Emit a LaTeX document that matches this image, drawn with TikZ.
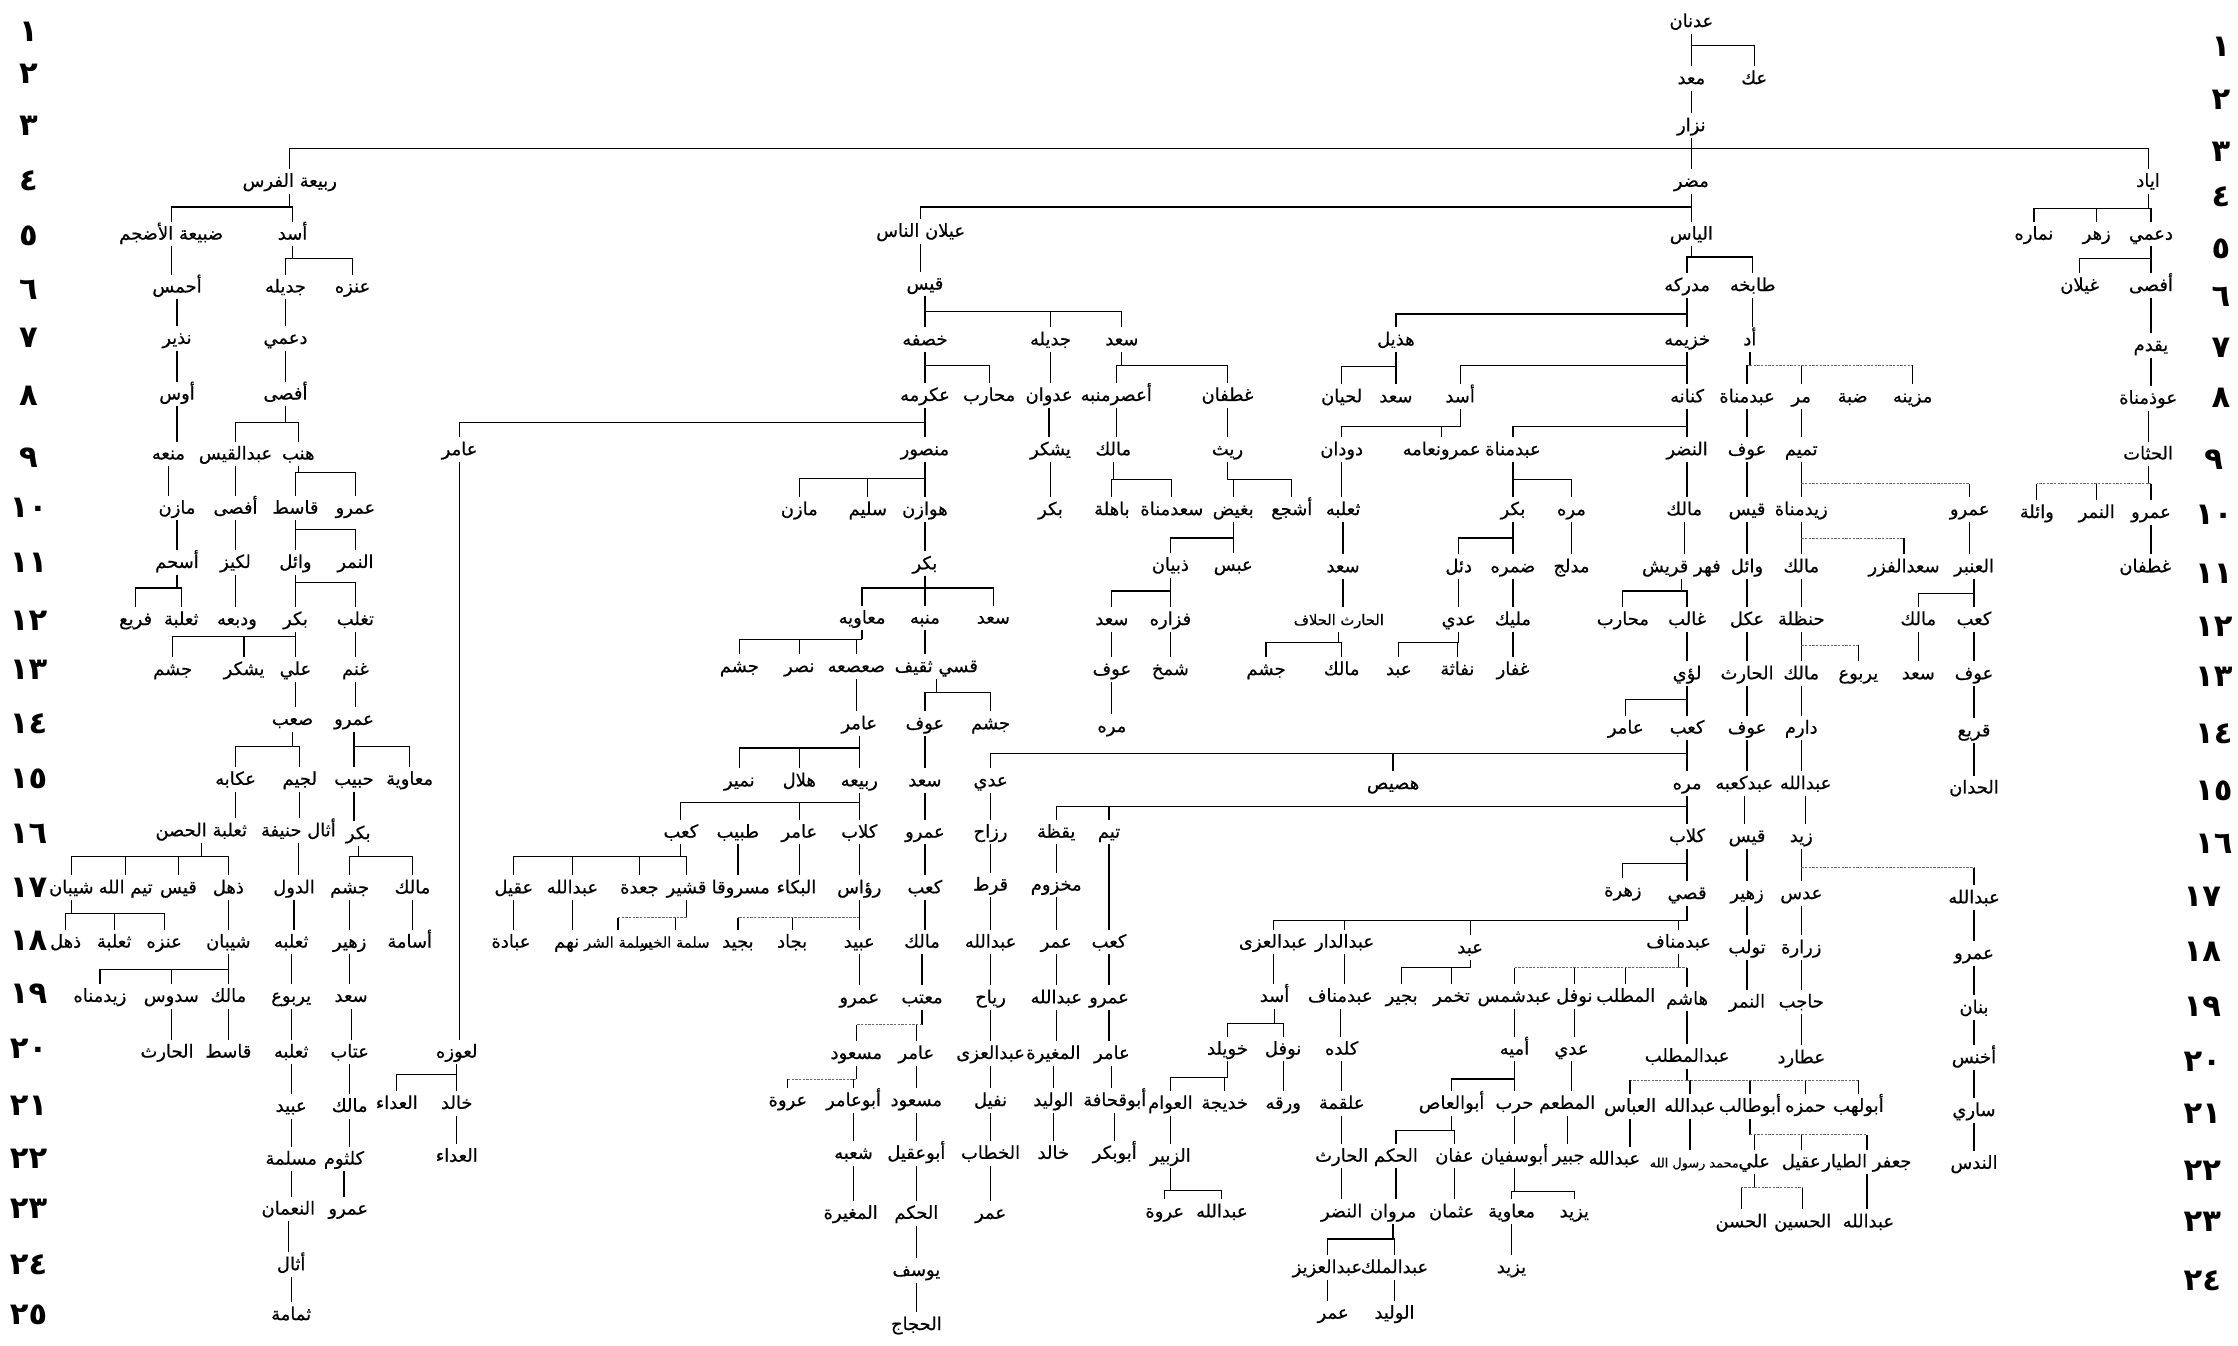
\documentclass[tikz,border=0pt]{standalone}
\usepackage{fontspec}
\newfontfamily\arf[Script=Arabic,FakeBold=0.5]{DejaVu Sans}
\newfontfamily\numf{DejaVu Sans}
\TeXXeTstate=1
\tikzset{
  nm/.style={font=\arf\fontsize{8.8}{9.5}\selectfont, inner sep=0.6pt, text height=0.8em, text depth=0.25em,
     execute at begin node=\beginR, execute at end node=\endR},
  sm/.style={font=\arf\fontsize{7.2}{8}\selectfont},
  xs/.style={font=\arf\fontsize{6.3}{7}\selectfont},
  ln/.style={line width=0.6pt, black},
  dt/.style={line width=0.5pt, black!60, dash pattern=on 1.2pt off 0.6pt},
  numl/.style={font=\numf\bfseries\fontsize{15}{16}\selectfont, inner sep=0pt}
}
\newcommand\NN[5][]{\node[nm,#1] (#2) at (#3,#4) {#5};}
\newcommand\VL[2]{\draw[ln] (#1.south) -- (#1.south |- #2.north);}
\newcommand\FM[3]{\coordinate (barY) at (0,#2);
  \draw[ln] (#1.south) -- (#1.south |- barY);
  \foreach \kid in {#3}{\draw[ln] (#1.south |- barY) -| (\kid.north);}}
\newcommand\FD[3]{\coordinate (barY) at (0,#2);
  \draw[ln] (#1.south) -- (#1.south |- barY);
  \foreach \kid in {#3}{\draw[dt] (#1.south |- barY) -- (\kid.north |- barY); \draw[ln] (\kid.north |- barY) -- (\kid.north);}}
\begin{document}
\begin{tikzpicture}[x=0.7pt,y=-0.7pt]
\fill[white] (0,0) rectangle (1568,943);
\useasboundingbox (0,0) rectangle (1568,943);
% ---- row numbers ----
\node[numl] (L1) at (20,22) {١};
\node[numl] (L2) at (20,52) {٢};
\node[numl] (L3) at (20,88) {٣};
\node[numl] (L4) at (20,127) {٤};
\node[numl] (L5) at (20,165) {٥};
\node[numl] (L6) at (20,203) {٦};
\node[numl] (L7) at (20,237) {٧};
\node[numl] (L8) at (20,277) {٨};
\node[numl] (L9) at (20,321) {٩};
\node[numl] (L10) at (20,356) {١٠};
\node[numl] (L11) at (20,394) {١١};
\node[numl] (L12) at (20,435) {١٢};
\node[numl] (L13) at (20,469) {١٣};
\node[numl] (L14) at (20,507) {١٤};
\node[numl] (L15) at (20,546) {١٥};
\node[numl] (L16) at (20,584) {١٦};
\node[numl] (L17) at (20,622) {١٧};
\node[numl] (L18) at (20,659) {١٨};
\node[numl] (L19) at (20,696) {١٩};
\node[numl] (L20) at (20,735) {٢٠};
\node[numl] (L21) at (20,775) {٢١};
\node[numl] (L22) at (20,812) {٢٢};
\node[numl] (L23) at (20,847) {٢٣};
\node[numl] (L24) at (20,886) {٢٤};
\node[numl] (L25) at (20,921) {٢٥};
\node[numl] (R1) at (1556,33) {١};
\node[numl] (R2) at (1556,70) {٢};
\node[numl] (R3) at (1556,106) {٣};
\node[numl] (R4) at (1556,138) {٤};
\node[numl] (R5) at (1556,174) {٥};
\node[numl] (R6) at (1556,208) {٦};
\node[numl] (R7) at (1556,244) {٧};
\node[numl] (R8) at (1556,279) {٨};
\node[numl] (R9) at (1551,322) {٩};
\node[numl] (R10) at (1551,361) {١٠};
\node[numl] (R11) at (1551,402) {١١};
\node[numl] (R12) at (1551,439) {١٢};
\node[numl] (R13) at (1551,474) {١٣};
\node[numl] (R14) at (1551,514) {١٤};
\node[numl] (R15) at (1551,554) {١٥};
\node[numl] (R16) at (1551,591) {١٦};
\node[numl] (R17) at (1543,628) {١٧};
\node[numl] (R18) at (1543,667) {١٨};
\node[numl] (R19) at (1543,705) {١٩};
\node[numl] (R20) at (1543,744) {٢٠};
\node[numl] (R21) at (1543,780) {٢١};
\node[numl] (R22) at (1543,820) {٢٢};
\node[numl] (R23) at (1543,856) {٢٣};
\node[numl] (R24) at (1543,897) {٢٤};
% ---- top ----
\NN{adnan}{1185}{15}{عدنان}
\NN{maad}{1185}{55}{معد}
\NN{akk}{1229}{55}{عك}
\FM{adnan}{32}{maad,akk}
\NN{nizar}{1185}{88}{نزار}
\VL{maad}{nizar}
\NN{rabia}{203}{127}{ربيعة الفرس}
\NN{mudar}{1185}{127}{مضر}
\NN{iyad}{1505}{127}{اياد}
\FM{nizar}{104}{rabia,mudar,iyad}
% ---- Iyad ----
\NN{nimara}{1425}{164}{نماره}
\NN{zuhr}{1469}{164}{زهر}
\NN{dumi}{1507}{164}{دعمي}
\FM{iyad}{146}{nimara,zuhr,dumi}
\NN{ghaylan}{1457}{200}{غيلان}
\NN{afsab}{1507}{200}{أفصى}
\FM{dumi}{181}{ghaylan,afsab}
\NN{yaqdum}{1507}{242}{يقدم}
\VL{afsab}{yaqdum}
\NN{awdh}{1505}{279}{عوذمناة}
\VL{yaqdum}{awdh}
\NN{hathat}{1505}{318}{الحثات}
\VL{awdh}{hathat}
\NN{wathila}{1427}{359}{وائلة}
\NN{namirb}{1469}{359}{النمر}
\NN{amrb}{1507}{359}{عمرو}
\FD{hathat}{339}{wathila,namirb,amrb}
\NN{ghatafanb}{1503}{397}{غطفان}
\VL{amrb}{ghatafanb}
% ---- Mudar ----
\NN{aylan}{645}{162}{عيلان الناس}
\NN{ilyas}{1185}{164}{الياس}
\FM{mudar}{145}{aylan,ilyas}
\NN{mudrika}{1182}{200}{مدركه}
\NN{tabikha}{1228}{200}{طابخه}
\FM{ilyas}{180}{mudrika,tabikha}
\NN{hudhayl}{978}{238}{هذيل}
\NN{khuzayma}{1182}{238}{خزيمه}
\FM{mudrika}{220}{hudhayl,khuzayma}
\NN{udd}{1226}{238}{أد}
\VL{tabikha}{udd}
\NN{lihyan}{940}{278}{لحيان}
\NN{saadh}{978}{278}{سعد}
\FM{hudhayl}{257}{lihyan,saadh}
\NN{asadk}{1023}{278}{أسد}
\NN{kinana}{1182}{278}{كنانه}
\FM{khuzayma}{256}{asadk,kinana}
\NN{abdmanata}{1224}{278}{عبدمناة}
\NN{murr}{1262}{278}{مر}
\NN{dabba}{1298}{278}{ضبة}
\NN{muzayna}{1340}{278}{مزينه}
\FD{udd}{256}{abdmanata,murr,muzayna}
\NN{awfa}{1224}{315}{عوف}
\VL{abdmanata}{awfa}
\NN{tamim}{1262}{315}{تميم}
\VL{murr}{tamim}
\NN{abdmanatk}{1060}{315}{عبدمناة}
\NN{nadr}{1182}{315}{النضر}
\FM{kinana}{299}{abdmanatk,nadr}
\NN{dudan}{940}{315}{دودان}
\NN{amrnaama}{1010}{315}{عمرونعامه}
\FM{asadk}{299}{dudan,amrnaama}
% row 10
\NN{maliknd}{1180}{357}{مالك}
\VL{nadr}{maliknd}
\NN{qaysa}{1224}{357}{قيس}
\VL{awfa}{qaysa}
\NN{zaydmanat}{1262}{357}{زيدمناة}
\NN{amrt}{1380}{357}{عمرو}
\FD{tamim}{339}{zaydmanat,amrt}
\NN{bakrk}{1060}{357}{بكر}
\NN{murrak}{1101}{357}{مره}
\FM{abdmanatk}{336}{bakrk,murrak}
\NN{thalabad}{941}{357}{ثعلبه}
\VL{dudan}{thalabad}
% row 11
\NN{fihr}{1178}{397}{فهر قريش}
\VL{maliknd}{fihr}
\NN{waila}{1224}{397}{وائل}
\VL{qaysa}{waila}
\NN{malikt}{1262}{397}{مالك}
\NN{saadfizr}{1334}{397}{سعدالفزر}
\FD{zaydmanat}{377}{malikt,saadfizr}
\NN{anbar}{1383}{397}{العنبر}
\VL{amrt}{anbar}
\NN{duil}{1022}{397}{دئل}
\NN{damra}{1060}{397}{ضمره}
\FM{bakrk}{377}{duil,damra}
\NN{mudlij}{1101}{397}{مدلج}
\VL{murrak}{mudlij}
\NN{saadth}{941}{397}{سعد}
\VL{thalabad}{saadth}
% row 12
\NN{muharibq}{1137}{434}{محارب}
\NN{ghalib}{1182}{434}{غالب}
\FM{fihr}{414}{muharibq,ghalib}
\NN{ukl}{1224}{434}{عكل}
\VL{waila}{ukl}
\NN{hanzala}{1262}{434}{حنظلة}
\VL{malikt}{hanzala}
\NN{malika}{1344}{434}{مالك}
\NN{kaaba}{1383}{434}{كعب}
\FM{anbar}{416}{malika,kaaba}
\NN[sm]{harithh}{938}{434}{الحارث الحلاف}
\VL{saadth}{harithh}
\NN{adid}{1022}{434}{عدي}
\VL{duil}{adid}
\NN{mulayk}{1060}{434}{مليك}
\VL{damra}{mulayk}
% row 13
\NN{luayy}{1182}{472}{لؤي}
\VL{ghalib}{luayy}
\NN{haritha}{1224}{472}{الحارث}
\VL{ukl}{haritha}
\NN{malikh}{1262}{472}{مالك}
\NN{yarbu}{1302}{472}{يربوع}
\FD{hanzala}{452}{malikh,yarbu}
\NN{saada}{1344}{472}{سعد}
\VL{malika}{saada}
\NN{awfk}{1383}{472}{عوف}
\VL{kaaba}{awfk}
\NN{jushamh}{887}{469}{جشم}
\NN{malikhh}{940}{469}{مالك}
\FM{harithh}{450}{jushamh,malikhh}
\NN{abdd}{980}{469}{عبد}
\NN{nufatha}{1021}{469}{نفاثة}
\FM{adid}{450}{abdd,nufatha}
\NN{ghifar}{1060}{469}{غفار}
\VL{mulayk}{ghifar}
% row 14
\NN{amirq}{1139}{510}{عامر}
\NN{kaabq}{1182}{510}{كعب}
\FM{luayy}{490}{amirq,kaabq}
\NN{awfb}{1224}{510}{عوف}
\VL{haritha}{awfb}
\NN{darim}{1262}{510}{دارم}
\VL{malikh}{darim}
\NN{qurai}{1383}{512}{قريع}
\VL{awfk}{qurai}
% row 15
\NN{adiq}{694}{547}{عدي}
\NN{husays}{976}{549}{هصيص}
\NN{murraq}{1182}{549}{مره}
\FM{kaabq}{528}{adiq,husays,murraq}
\NN{abdkaaba}{1222}{549}{عبدكعبه}
\VL{awfb}{abdkaaba}
\NN{abdallahd}{1265}{549}{عبدالله}
\VL{darim}{abdallahd}
\NN{huddan}{1383}{552}{الحدان}
\VL{qurai}{huddan}
% row 16
\NN{yaqaza}{740}{583}{يقظة}
\NN{tayyim}{777}{583}{تيم}
\NN{kilabq}{1182}{586}{كلاب}
\FM{murraq}{565}{yaqaza,tayyim,kilabq}
\NN{qaysb}{1224}{586}{قيس}
\VL{abdkaaba}{qaysb}
\NN{zaydd}{1262}{586}{زيد}
\VL{abdallahd}{zaydd}
\NN{rizah}{694}{583}{رزاح}
\VL{adiq}{rizah}
% row 17
\NN{zuhra}{1137}{624}{زهرة}
\NN{qusayy}{1182}{626}{قصي}
\FM{kilabq}{605}{zuhra,qusayy}
\NN{zuhayrq}{1224}{626}{زهير}
\VL{qaysb}{zuhayrq}
\NN{udas}{1262}{626}{عدس}
\NN{abdallahz}{1383}{629}{عبدالله}
\FD{zaydd}{608}{udas,abdallahz}
\NN{qurt}{694}{620}{قرط}
\VL{rizah}{qurt}
\NN{makhzum}{740}{620}{مخزوم}
\VL{yaqaza}{makhzum}
% row 18
\NN{abduzza}{892}{660}{عبدالعزى}
\NN{abddar}{942}{660}{عبدالدار}
\NN{abdq}{1030}{664}{عبد}
\NN{abdmanaf}{1176}{660}{عبدمناف}
\FM{qusayy}{645}{abduzza,abddar,abdq,abdmanaf}
\NN{tawlab}{1224}{664}{تولب}
\VL{zuhayrq}{tawlab}
\NN{zurara}{1262}{664}{زرارة}
\VL{udas}{zurara}
\NN{amrz}{1383}{668}{عمرو}
\VL{abdallahz}{amrz}
\NN{kaabt}{777}{660}{كعب}
\VL{tayyim}{kaabt}
\NN{umarm}{740}{660}{عمر}
\VL{makhzum}{umarm}
\NN{abdallahq}{694}{660}{عبدالله}
\VL{qurt}{abdallahq}
% row 19
\NN{asadq}{893}{698}{أسد}
\VL{abduzza}{asadq}
\NN{abdmanafd}{939}{698}{عبدمناف}
\VL{abddar}{abdmanafd}
\NN{bujayr}{982}{698}{بجير}
\NN{takhmur}{1017}{698}{تخمر}
\FM{abdq}{678}{bujayr,takhmur}
\NN{abdshams}{1061}{698}{عبدشمس}
\NN{nawfal}{1103}{698}{نوفل}
\NN{muttalib}{1139}{698}{المطلب}
\NN{hashim}{1182}{700}{هاشم}
\FD{abdmanaf}{678}{abdshams,nawfal,muttalib,hashim}
\NN{annimrt}{1224}{702}{النمر}
\VL{tawlab}{annimrt}
\NN{hajib}{1262}{702}{حاجب}
\VL{zurara}{hajib}
\NN{bannan}{1383}{706}{بنان}
\VL{amrz}{bannan}
\NN{amrk}{777}{699}{عمرو}
\VL{kaabt}{amrk}
\NN{abdallahm}{740}{699}{عبدالله}
\VL{umarm}{abdallahm}
\NN{riyah}{694}{699}{رياح}
\VL{abdallahq}{riyah}
% row 20
\NN{khuwaylid}{860}{735}{خويلد}
\NN{nawfala}{899}{735}{نوفل}
\FM{asadq}{717}{khuwaylid,nawfala}
\NN{kalada}{940}{735}{كلده}
\VL{abdmanafd}{kalada}
\NN{umayya}{1061}{735}{أميه}
\VL{abdshams}{umayya}
\NN{adin}{1101}{735}{عدي}
\VL{nawfal}{adin}
\NN{abdmuttalib}{1182}{740}{عبدالمطلب}
\VL{hashim}{abdmuttalib}
\NN{utarid}{1262}{741}{عطارد}
\VL{hajib}{utarid}
\NN{akhnas}{1383}{741}{أخنس}
\VL{bannan}{akhnas}
\NN{amirk}{779}{738}{عامر}
\VL{amrk}{amirk}
\NN{mughiram}{738}{738}{المغيرة}
\VL{abdallahm}{mughiram}
\NN{abduzzar}{694}{738}{عبدالعزى}
\VL{riyah}{abduzzar}
% row 21
\NN{awwam}{820}{773}{العوام}
\NN{khadija}{858}{773}{خديجة}
\FM{khuwaylid}{755}{awwam,khadija}
\NN{waraqa}{899}{773}{ورقه}
\VL{nawfala}{waraqa}
\NN{alqama}{940}{773}{علقمة}
\VL{kalada}{alqama}
\NN{abulas}{1017}{773}{أبوالعاص}
\NN{harb}{1061}{773}{حرب}
\FM{umayya}{756}{abulas,harb}
\NN{mutim}{1098}{773}{المطعم}
\VL{adin}{mutim}
\NN{abbas}{1142}{775}{العباس}
\NN{abdallahh}{1184}{775}{عبدالله}
\NN{abutalib}{1226}{775}{أبوطالب}
\NN{hamza}{1265}{775}{حمزه}
\NN{abulahab}{1302}{775}{أبولهب}
\FD{abdmuttalib}{757}{abbas,abdallahh,abutalib,hamza,abulahab}
\NN{sari}{1383}{778}{ساري}
\VL{akhnas}{sari}
\NN{abuquhafa}{781}{771}{أبوقحافة}
\VL{amirk}{abuquhafa}
\NN{walidm}{738}{771}{الوليد}
\VL{mughiram}{walidm}
\NN{nufayl}{694}{771}{نفيل}
\VL{abduzzar}{nufayl}
% row 22
\NN{zubayr}{820}{810}{الزبير}
\VL{awwam}{zubayr}
\NN{harithk}{940}{810}{الحارث}
\VL{alqama}{harithk}
\NN{hakam}{978}{810}{الحكم}
\NN{affan}{1019}{810}{عفان}
\FM{abulas}{792}{hakam,affan}
\NN{abusufyan}{1061}{810}{أبوسفيان}
\VL{harb}{abusufyan}
\NN{jubayr}{1099}{810}{جبير}
\VL{mutim}{jubayr}
\NN{abdallaha}{1131}{812}{عبدالله}
\VL{abbas}{abdallaha}
\NN[xs]{muhammad}{1187}{814}{محمد رسول الله}
\VL{abdallahh}{muhammad}
\NN{ali}{1229}{814}{علي}
\NN{aqil}{1262}{814}{عقيل}
\NN{jafar}{1308}{814}{جعفر الطيار}
\FD{abutalib}{795}{ali,aqil,jafar}
\NN{nadas}{1383}{815}{الندس}
\VL{sari}{nadas}
\NN{abubakr}{781}{808}{أبوبكر}
\VL{abuquhafa}{abubakr}
\NN{khalidm}{738}{808}{خالد}
\VL{walidm}{khalidm}
\NN{khattab}{694}{808}{الخطاب}
\VL{nufayl}{khattab}
% row 23
\NN{urwa}{816}{849}{عروة}
\NN{abdallahzb}{856}{849}{عبدالله}
\FM{zubayr}{834}{urwa,abdallahzb}
\NN{nadrk}{940}{849}{النضر}
\VL{harithk}{nadrk}
\NN{marwan}{976}{849}{مروان}
\VL{hakam}{marwan}
\NN{uthman}{1017}{849}{عثمان}
\VL{affan}{uthman}
\NN{muawiyas}{1059}{849}{معاوية}
\NN{yazida}{1103}{849}{يزيد}
\FM{abusufyan}{835}{muawiyas,yazida}
\NN{hasan}{1220}{856}{الحسن}
\NN{husayn}{1263}{856}{الحسين}
\FD{ali}{832}{hasan,husayn}
\NN{abdallahj}{1309}{856}{عبدالله}
\VL{jafar}{abdallahj}
% row 24-25
\NN{abdaziz}{930}{888}{عبدالعزيز}
\NN{abdmalik}{977}{888}{عبدالملك}
\FM{marwan}{868}{abdaziz,abdmalik}
\NN{yazidb}{1059}{888}{يزيد}
\VL{muawiyas}{yazidb}
\NN{umara}{934}{920}{عمر}
\VL{abdaziz}{umara}
\NN{walida}{977}{920}{الوليد}
\VL{abdmalik}{walida}
% ---- Qays ----
\NN{qays}{648}{199}{قيس}
\VL{aylan}{qays}
\NN{khasafa}{648}{238}{خصفه}
\NN{jadila}{736}{238}{جديله}
\NN{saadq}{786}{238}{سعد}
\FM{qays}{218}{khasafa,jadila,saadq}
\NN{ikrima}{648}{277}{عكرمه}
\NN{muharib}{693}{277}{محارب}
\FM{khasafa}{256}{ikrima,muharib}
\NN{adwan}{735}{277}{عدوان}
\VL{jadila}{adwan}
\NN{asur}{782}{277}{أعصرمنبه}
\NN{ghatafan}{860}{277}{غطفان}
\FM{saadq}{256}{asur,ghatafan}
\NN{amiri}{322}{315}{عامر}
\NN{mansur}{648}{315}{منصور}
\FM{ikrima}{296}{amiri,mansur}
\NN{yashkur}{736}{315}{يشكر}
\VL{adwan}{yashkur}
\NN{malikb}{780}{315}{مالك}
\VL{asur}{malikb}
\NN{rith}{860}{315}{ريث}
\VL{ghatafan}{rith}
\NN{mazin}{560}{357}{مازن}
\NN{sulaym}{608}{357}{سليم}
\NN{hawazin}{648}{357}{هوازن}
\FM{mansur}{335}{mazin,sulaym,hawazin}
\NN{bakry}{736}{357}{بكر}
\VL{yashkur}{bakry}
\NN{bahila}{779}{357}{باهلة}
\NN{saadmanat}{821}{357}{سعدمناة}
\FM{malikb}{336}{bahila,saadmanat}
\NN{baghid}{864}{357}{بغيض}
\NN{ashja}{905}{357}{أشجع}
\FM{rith}{336}{baghid,ashja}
\NN{bakrh}{648}{395}{بكر}
\VL{hawazin}{bakrh}
\NN{dhubyan}{820}{396}{ذبيان}
\NN{abs}{864}{396}{عبس}
\FM{baghid}{377}{dhubyan,abs}
\NN{muawiyab}{604}{433}{معاويه}
\NN{munabbih}{648}{433}{منبه}
\NN{saadb}{696}{433}{سعد}
\FM{bakrh}{412}{muawiyab,munabbih,saadb}
\NN{saaddh}{779}{434}{سعد}
\NN{fazara}{820}{434}{فزاره}
\FM{dhubyan}{414}{saaddh,fazara}
\NN{jushamm}{518}{467}{جشم}
\NN{nasr}{560}{467}{نصر}
\NN{sasaa}{600}{467}{صعصعه}
\FM{muawiyab}{448}{jushamm,nasr,sasaa}
\NN{qasi}{656}{467}{قسي ثقيف}
\VL{munabbih}{qasi}
\NN{awfs}{779}{469}{عوف}
\VL{saaddh}{awfs}
\NN{shamkh}{820}{469}{شمخ}
\VL{fazara}{shamkh}
\NN{amirs}{602}{507}{عامر}
\VL{sasaa}{amirs}
\NN{awfth}{648}{507}{عوف}
\NN{jushamth}{694}{507}{جشم}
\FM{qasi}{485}{awfth,jushamth}
\NN{murragh}{779}{509}{مره}
\VL{awfs}{murragh}
\NN{numayr}{518}{547}{نمير}
\NN{hilal}{560}{547}{هلال}
\NN{rabias}{602}{547}{ربيعه}
\FM{amirs}{524}{numayr,hilal,rabias}
\NN{saadth2}{648}{547}{سعد}
\VL{awfth}{saadth2}
\NN{kaabr}{477}{583}{كعب}
\NN{tubayb}{517}{583}{طبيب}
\NN{amirr}{560}{583}{عامر}
\NN{kilabr}{602}{583}{كلاب}
\FM{rabias}{562}{kaabr,amirr,kilabr}
\NN{amrth}{648}{583}{عمرو}
\VL{saadth2}{amrth}
\NN{uqayl}{360}{622}{عقيل}
\NN{abdallahr}{401}{622}{عبدالله}
\NN{jaada}{448}{622}{جعدة}
\NN{qushayr}{481}{622}{قشير}
\FM{kaabr}{600}{uqayl,abdallahr,jaada,qushayr}
\NN{masruqa}{519}{622}{مسروقا}
\VL{tubayb}{masruqa}
\NN{bakka}{558}{622}{البكاء}
\VL{amirr}{bakka}
\NN{ruas}{602}{622}{رؤاس}
\VL{kilabr}{ruas}
\NN{kaabth}{648}{622}{كعب}
\VL{amrth}{kaabth}
\NN{ubada}{358}{660}{عبادة}
\VL{uqayl}{ubada}
\NN{nahm}{397}{660}{نهم}
\VL{abdallahr}{nahm}
\NN[sm]{salamashar}{433}{660}{سلمة الشر}
\NN[sm]{salamakhayr}{473}{660}{سلمة الخير}
\FD{qushayr}{643}{salamashar,salamakhayr}
\NN{bujayd}{517}{660}{بجيد}
\NN{bijad}{555}{660}{بجاد}
\NN{ubayd}{602}{660}{عبيد}
\FD{ruas}{643}{bujayd,bijad,ubayd}
\NN{malikth}{646}{660}{مالك}
\VL{kaabth}{malikth}
\NN{amru}{602}{699}{عمرو}
\VL{ubayd}{amru}
\NN{muattib}{646}{699}{معتب}
\VL{malikth}{muattib}
\NN{masuda}{600}{738}{مسعود}
\NN{amirm}{642}{738}{عامر}
\FD{muattib}{718}{masuda,amirm}
\NN{urwat}{552}{771}{عروة}
\NN{abuamir}{598}{771}{أبوعامر}
\FD{masuda}{756}{urwat,abuamir}
\NN{masudb}{642}{771}{مسعود}
\VL{amirm}{masudb}
\NN{shuba}{598}{808}{شعبه}
\VL{abuamir}{shuba}
\NN{abuaqil}{642}{808}{أبوعقيل}
\VL{masudb}{abuaqil}
\NN{mughiras}{596}{850}{المغيرة}
\VL{shuba}{mughiras}
\NN{hakamt}{642}{850}{الحكم}
\VL{abuaqil}{hakamt}
\NN{umark}{694}{850}{عمر}
\VL{khattab}{umark}
\NN{yusuf}{642}{890}{يوسف}
\VL{hakamt}{yusuf}
\NN{hajjaj}{642}{928}{الحجاج}
\VL{yusuf}{hajjaj}
% ---- Rabia ----
\NN{dubaya}{120}{164}{ضبيعة الأضجم}
\NN{asadr}{205}{164}{أسد}
\FM{rabia}{145}{dubaya,asadr}
\NN{ahmas}{124}{201}{أحمس}
\VL{dubaya}{ahmas}
\NN{jadilar}{200}{201}{جديله}
\NN{anaza}{247}{201}{عنزه}
\FM{asadr}{181}{jadilar,anaza}
\NN{nadhir}{124}{237}{نذير}
\VL{ahmas}{nadhir}
\NN{dumir}{200}{237}{دعمي}
\VL{jadilar}{dumir}
\NN{aws}{124}{276}{أوس}
\VL{nadhir}{aws}
\NN{afsar}{200}{276}{أفصى}
\VL{dumir}{afsar}
\NN{mana}{118}{318}{منعه}
\VL{aws}{mana}
\NN{abdqays}{165}{318}{عبدالقيس}
\NN{hinb}{209}{318}{هنب}
\FM{afsar}{296}{abdqays,hinb}
\NN{mazinr}{124}{356}{مازن}
\VL{mana}{mazinr}
\NN{afsaq}{165}{356}{أفصى}
\VL{abdqays}{afsaq}
\NN{qasit}{207}{356}{قاسط}
\NN{amrh}{249}{356}{عمرو}
\FM{hinb}{331}{qasit,amrh}
\NN{ashamm}{124}{394}{أسحم}
\VL{mazinr}{ashamm}
\NN{lukayz}{165}{394}{لكيز}
\VL{afsaq}{lukayz}
\NN{wailr}{207}{394}{وائل}
\NN{namirr}{249}{394}{النمر}
\FM{qasit}{371}{wailr,namirr}
\NN{furay}{95}{434}{فريع}
\NN{thalabaa}{127}{434}{ثعلبة}
\FM{ashamm}{412}{furay,thalabaa}
\NN{wadia}{166}{434}{ودبعه}
\VL{lukayz}{wadia}
\NN{bakrw}{207}{434}{بكر}
\NN{taghlib}{249}{434}{تغلب}
\FM{wailr}{408}{bakrw,taghlib}
\NN{jushamb}{121}{469}{جشم}
\NN{yashkurb}{171}{469}{يشكر}
\NN{alib}{207}{469}{علي}
\FM{bakrw}{446}{jushamb,yashkurb,alib}
\NN{ghanm}{249}{469}{غنم}
\VL{taghlib}{ghanm}
\NN{sab}{205}{504}{صعب}
\VL{alib}{sab}
\NN{amrg}{248}{504}{عمرو}
\VL{ghanm}{amrg}
\NN{ukaba}{165}{546}{عكابه}
\NN{lujaym}{210}{546}{لجيم}
\FM{sab}{523}{ukaba,lujaym}
\NN{habib}{248}{546}{حبيب}
\NN{muawiyar}{287}{546}{معاوية}
\FM{amrg}{523}{habib,muawiyar}
\NN{thalabahusn}{141}{582}{ثعلبة الحصن}
\VL{ukaba}{thalabahusn}
\NN{hanifa}{209}{582}{أثال حنيفة}
\VL{lujaym}{hanifa}
\NN{bakrh2}{251}{584}{بكر}
\VL{habib}{bakrh2}
\NN{shayban1}{50}{622}{شيبان}
\NN{taymallah}{88}{622}{تيم الله}
\NN{qaysr}{125}{622}{قيس}
\NN{dhuhl1}{160}{622}{ذهل}
\FM{thalabahusn}{600}{shayban1,taymallah,qaysr,dhuhl1}
\NN{dawl}{206}{622}{الدول}
\VL{hanifa}{dawl}
\NN{jushambk}{245}{622}{جشم}
\NN{malikbk}{289}{622}{مالك}
\FM{bakrh2}{600}{jushambk,malikbk}
\NN{dhuhl2}{46}{660}{ذهل}
\NN{thalabas}{80}{660}{ثعلبة}
\NN{anazab}{115}{660}{عنزه}
\FM{shayban1}{640}{dhuhl2,thalabas,anazab}
\NN{shayban2}{160}{660}{شيبان}
\VL{dhuhl1}{shayban2}
\NN{thalabadw}{204}{660}{ثعلبه}
\VL{dawl}{thalabadw}
\NN{zuhayrj}{245}{660}{زهير}
\VL{jushambk}{zuhayrj}
\NN{usama}{287}{660}{أسامة}
\VL{malikbk}{usama}
\NN{zaydmanats}{70}{698}{زيدمناه}
\NN{sadus}{120}{698}{سدوس}
\NN{maliks}{160}{698}{مالك}
\FM{shayban2}{679}{zaydmanats,sadus,maliks}
\NN{yarbud}{204}{698}{يربوع}
\VL{thalabadw}{yarbud}
\NN{saadz}{246}{698}{سعد}
\VL{zuhayrj}{saadz}
\NN{hariths}{117}{737}{الحارث}
\VL{sadus}{hariths}
\NN{qasitm}{160}{737}{قاسط}
\VL{maliks}{qasitm}
\NN{thalabab}{204}{737}{ثعلبه}
\VL{yarbud}{thalabab}
\NN{attab}{245}{737}{عتاب}
\VL{saadz}{attab}
\NN{lawza}{320}{737}{لعوزه}
\VL{amiri}{lawza}
\NN{ubaydh}{204}{775}{عبيد}
\VL{thalabab}{ubaydh}
\NN{malikat}{245}{775}{مالك}
\VL{attab}{malikat}
\NN{adda}{278}{773}{العداء}
\NN{khalidl}{320}{773}{خالد}
\FM{lawza}{753}{adda,khalidl}
\NN{maslama}{204}{812}{مسلمة}
\VL{ubaydh}{maslama}
\NN{kulthum}{241}{812}{كلثوم}
\VL{malikat}{kulthum}
\NN{addab}{320}{810}{العداء}
\VL{khalidl}{addab}
\NN{numan}{202}{847}{النعمان}
\VL{maslama}{numan}
\NN{amrkl}{244}{847}{عمرو}
\VL{kulthum}{amrkl}
\NN{uthal}{204}{886}{أثال}
\VL{numan}{uthal}
\NN{thumama}{204}{921}{ثمامة}
\VL{uthal}{thumama}
\end{tikzpicture}
\end{document}
